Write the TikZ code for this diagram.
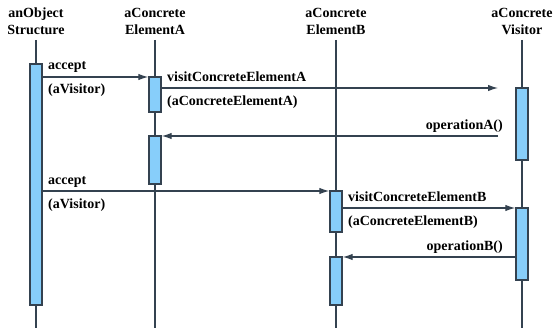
\documentclass[tikz,border=0pt]{standalone}
\usepackage{fontspec}
\setmainfont{Liberation Serif}
\newfontfamily\diagfont{Liberation Serif}[BoldFont={Liberation Serif Bold}]
\usetikzlibrary{arrows.meta}
\definecolor{barfill}{RGB}{135,206,250}
\definecolor{linecol}{RGB}{52,66,80}
\newcommand\diagtext{\diagfont\fontsize{14}{17}\selectfont\bfseries}
\tikzset{
  head/.style={font=\diagtext, align=center, inner sep=0pt, anchor=base},
  lbl/.style={font=\diagtext, align=left, inner sep=0pt},
  life/.style={draw=linecol, line width=1.4pt},
  bar/.style={draw=linecol, fill=barfill, line width=1.4pt, minimum width=12pt, inner sep=0pt, rectangle},
  msg/.style={draw=linecol, line width=1.2pt, -{Latex[length=10pt,width=6.5pt]}}
}
\begin{document}
\begin{tikzpicture}[x=1pt, y=-1pt]
\useasboundingbox (0,0) rectangle (555,328);

% object headers (base anchor sits on the second line)
\node[head] (hS) at (36,35) {anObject\\Structure};
\node[head] (hA) at (155,35) {aConcrete\\ElementA};
\node[head] (hB) at (336,35) {aConcrete\\ElementB};
\node[head] (hV) at (522,35) {aConcrete\\Visitor};

% lifelines
\coordinate (tS) at (36,40);  \coordinate (bS) at (36,328);
\coordinate (tA) at (155,40); \coordinate (bA) at (155,328);
\coordinate (tB) at (336,40); \coordinate (bB) at (336,328);
\coordinate (tV) at (522,40); \coordinate (bV) at (522,328);
\draw[life] (tS) -- (bS);
\draw[life] (tA) -- (bA);
\draw[life] (tB) -- (bB);
\draw[life] (tV) -- (bV);

% activation bars
\node[bar, minimum height=241pt] (sS) at (36,184.5) {};
\node[bar, minimum height=35pt]  (a1) at (155,94.5) {};
\node[bar, minimum height=48pt]  (a2) at (155,160) {};
\node[bar, minimum height=72pt]  (v1) at (522,124) {};
\node[bar, minimum height=41pt]  (b1) at (336,211.5) {};
\node[bar, minimum height=48pt]  (b2) at (336,281) {};
\node[bar, minimum height=72pt]  (v2) at (522,244) {};

% message ends that stop short of the visitor bar
\coordinate (visA) at (498,88);
\coordinate (opA) at (498,136);

% messages
\draw[msg] (sS.east |- 0,77) -- (a1.west |- 0,77);
\draw[msg] (a1.east |- visA) -- (visA);
\draw[msg] (opA) -- (a2.east |- opA);
\draw[msg] (sS.east |- 0,191) -- (b1.west |- 0,191);
\draw[msg] (b1.east |- 0,208) -- (v2.west |- 0,208);
\draw[msg] (v2.west |- 0,257) -- (b2.east |- 0,257);

% message labels
\node[lbl, anchor=base west] (l1) at (48,70) {accept};
\node[lbl, anchor=base west] (l2) at (48,94) {(aVisitor)};
\node[lbl, anchor=base west] (l3) at (167,82) {visitConcreteElementA};
\node[lbl, anchor=base west] (l4) at (167,106) {(aConcreteElementA)};
\node[lbl, anchor=base east] (l5) at (503,130) {operationA()};
\node[lbl, anchor=base west] (l6) at (48,185) {accept};
\node[lbl, anchor=base west] (l7) at (48,209) {(aVisitor)};
\node[lbl, anchor=base west] (l8) at (348,202) {visitConcreteElementB};
\node[lbl, anchor=base west] (l9) at (348,226) {(aConcreteElementB)};
\node[lbl, anchor=base east] (l10) at (503,251) {operationB()};
\end{tikzpicture}
\end{document}
